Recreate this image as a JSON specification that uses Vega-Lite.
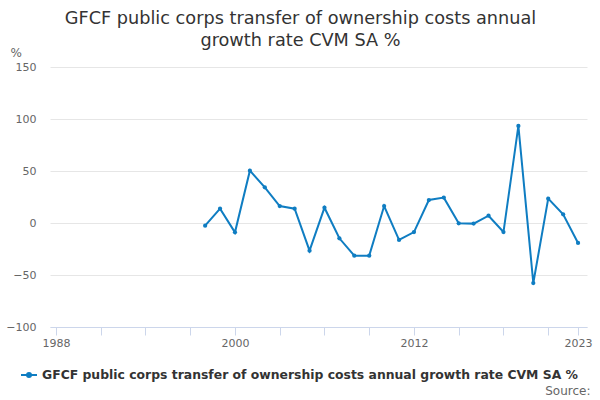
{
  "$schema": "https://vega.github.io/schema/vega-lite/v6.json",
  "width": 537,
  "height": 260,
  "autosize": "none",
  "padding": {"left": 50, "top": 67, "right": 13, "bottom": 73},
  "background": "#ffffff",
  "view": {"stroke": null},
  "title": {
    "text": ["GFCF public corps transfer of ownership costs annual", "growth rate CVM SA %"],
    "font": "DejaVu Sans",
    "fontSize": 17.7,
    "fontWeight": "normal",
    "color": "#333333",
    "lineHeight": 22,
    "anchor": "middle",
    "frame": "group",
    "dx": -18,
    "offset": -4
  },
  "data": {
    "values": [
      {"year": 1998, "value": -2.6, "series": "GFCF public corps transfer of ownership costs annual growth rate CVM SA %"},
      {"year": 1999, "value": 13.8, "series": "GFCF public corps transfer of ownership costs annual growth rate CVM SA %"},
      {"year": 2000, "value": -9, "series": "GFCF public corps transfer of ownership costs annual growth rate CVM SA %"},
      {"year": 2001, "value": 50.3, "series": "GFCF public corps transfer of ownership costs annual growth rate CVM SA %"},
      {"year": 2002, "value": 34.3, "series": "GFCF public corps transfer of ownership costs annual growth rate CVM SA %"},
      {"year": 2003, "value": 16.3, "series": "GFCF public corps transfer of ownership costs annual growth rate CVM SA %"},
      {"year": 2004, "value": 13.8, "series": "GFCF public corps transfer of ownership costs annual growth rate CVM SA %"},
      {"year": 2005, "value": -26.6, "series": "GFCF public corps transfer of ownership costs annual growth rate CVM SA %"},
      {"year": 2006, "value": 14.7, "series": "GFCF public corps transfer of ownership costs annual growth rate CVM SA %"},
      {"year": 2007, "value": -14.7, "series": "GFCF public corps transfer of ownership costs annual growth rate CVM SA %"},
      {"year": 2008, "value": -31.4, "series": "GFCF public corps transfer of ownership costs annual growth rate CVM SA %"},
      {"year": 2009, "value": -31.4, "series": "GFCF public corps transfer of ownership costs annual growth rate CVM SA %"},
      {"year": 2010, "value": 16.3, "series": "GFCF public corps transfer of ownership costs annual growth rate CVM SA %"},
      {"year": 2011, "value": -16.3, "series": "GFCF public corps transfer of ownership costs annual growth rate CVM SA %"},
      {"year": 2012, "value": -8.7, "series": "GFCF public corps transfer of ownership costs annual growth rate CVM SA %"},
      {"year": 2013, "value": 22.1, "series": "GFCF public corps transfer of ownership costs annual growth rate CVM SA %"},
      {"year": 2014, "value": 24.4, "series": "GFCF public corps transfer of ownership costs annual growth rate CVM SA %"},
      {"year": 2015, "value": -0.3, "series": "GFCF public corps transfer of ownership costs annual growth rate CVM SA %"},
      {"year": 2016, "value": -0.6, "series": "GFCF public corps transfer of ownership costs annual growth rate CVM SA %"},
      {"year": 2017, "value": 7, "series": "GFCF public corps transfer of ownership costs annual growth rate CVM SA %"},
      {"year": 2018, "value": -8.7, "series": "GFCF public corps transfer of ownership costs annual growth rate CVM SA %"},
      {"year": 2019, "value": 93.3, "series": "GFCF public corps transfer of ownership costs annual growth rate CVM SA %"},
      {"year": 2020, "value": -57.7, "series": "GFCF public corps transfer of ownership costs annual growth rate CVM SA %"},
      {"year": 2021, "value": 23.4, "series": "GFCF public corps transfer of ownership costs annual growth rate CVM SA %"},
      {"year": 2022, "value": 8.3, "series": "GFCF public corps transfer of ownership costs annual growth rate CVM SA %"},
      {"year": 2023, "value": -19.2, "series": "GFCF public corps transfer of ownership costs annual growth rate CVM SA %"}
    ]
  },
  "mark": {
    "type": "line",
    "strokeWidth": 2,
    "point": {"filled": true, "size": 18}
  },
  "encoding": {
    "x": {
      "field": "year",
      "type": "quantitative",
      "scale": {"domain": [1987.6, 2023.6], "nice": false, "zero": false},
      "axis": {
        "values": [1988, 1991, 1994, 1997, 2000, 2003, 2006, 2009, 2012, 2015, 2018, 2021, 2023],
        "labelExpr": "indexof([1988, 2000, 2012, 2023], datum.value) >= 0 ? datum.value : ''",
        "labelOverlap": false,
        "labelFlush": false,
        "grid": false,
        "domainColor": "#ccd6eb",
        "tickColor": "#ccd6eb",
        "tickSize": 8,
        "labelPadding": 2,
        "labelColor": "#666666",
        "labelFontSize": 11,
        "title": "Source:",
        "titleFontSize": 12,
        "titleFontWeight": "normal",
        "titleColor": "#666666",
        "titleAlign": "right",
        "titleAnchor": "end",
        "titleBaseline": "alphabetic",
        "titleX": 540,
        "titleY": 67
      }
    },
    "y": {
      "field": "value",
      "type": "quantitative",
      "scale": {"domain": [-100, 150], "nice": false},
      "axis": {
        "values": [-100, -50, 0, 50, 100, 150],
        "domain": false,
        "ticks": false,
        "gridColor": "#e6e6e6",
        "labelColor": "#666666",
        "labelFontSize": 11,
        "labelPadding": 14,
        "title": "%",
        "titleAngle": 0,
        "titleFontSize": 12,
        "titleFontWeight": "normal",
        "titleColor": "#666666",
        "titleAlign": "left",
        "titleBaseline": "middle",
        "titleX": -40,
        "titleY": -15
      }
    },
    "color": {
      "field": "series",
      "type": "nominal",
      "scale": {"range": ["#0f7dc2"]},
      "legend": {
        "title": null,
        "orient": "none",
        "legendX": -30,
        "legendY": 299,
        "symbolType": "M-1,0H1M-0.25,0A0.25,0.25,0,1,1,0.25,0A0.25,0.25,0,1,1,-0.25,0",
        "symbolSize": 256,
        "symbolStrokeWidth": 2,
        "labelFontSize": 12.4,
        "labelFontWeight": "bold",
        "labelColor": "#333333",
        "labelLimit": 0
      }
    }
  },
  "config": {
    "font": "DejaVu Sans",
    "axis": {"labelFont": "DejaVu Sans", "titleFont": "DejaVu Sans"},
    "legend": {"labelFont": "DejaVu Sans"}
  }
}
